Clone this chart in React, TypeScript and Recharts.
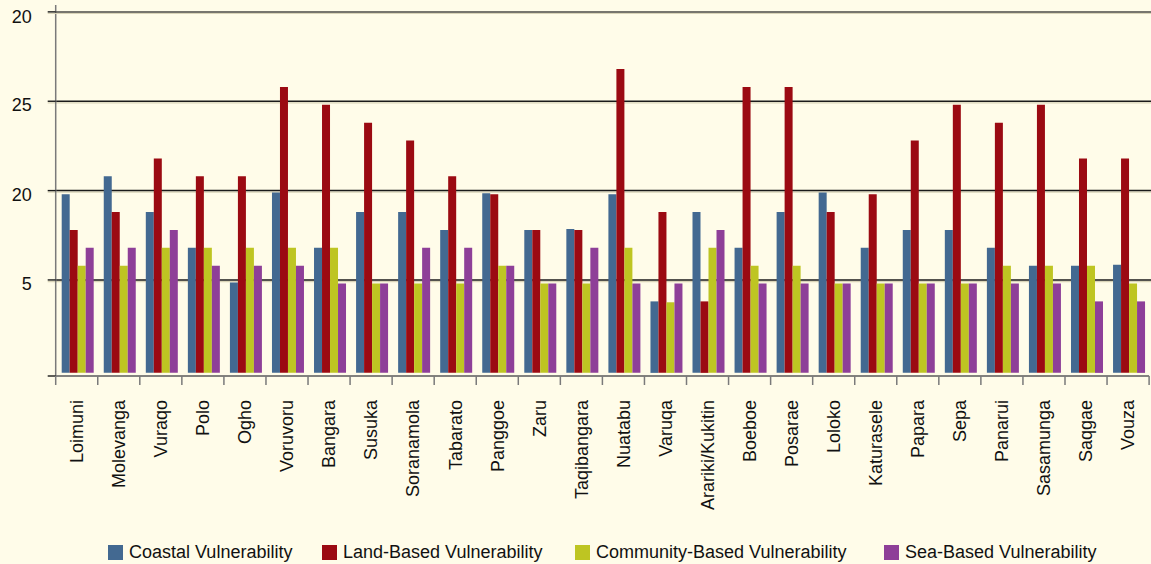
import React from 'react';
import { BarChart, Bar, XAxis, YAxis, ReferenceLine, Legend } from 'recharts';

const CATEGORIES = [
  'Loimuni', 'Molevanga', 'Vuraqo', 'Polo', 'Ogho', 'Voruvoru', 'Bangara', 'Susuka',
  'Soranamola', 'Tabarato', 'Panggoe', 'Zaru', 'Taqibangara', 'Nuatabu', 'Varuqa',
  'Arariki/Kukitin', 'Boeboe', 'Posarae', 'Loloko', 'Katurasele', 'Papara', 'Sepa',
  'Panarui', 'Sasamunga', 'Saqgae', 'Vouza',
];
const COASTAL = [10, 11, 9, 7, 5.05, 10.1, 7, 9, 9, 8, 10.05, 8, 8.05, 10, 4, 9, 7, 9, 10.1, 7, 8, 8, 7, 6, 6, 6.05];
const LAND = [8, 9, 12, 11, 11, 16, 15, 14, 13, 11, 10, 8, 8, 17, 9, 4, 16, 16, 9, 10, 13, 15, 14, 15, 12, 12];
const COMMUNITY = [6, 6, 7, 7, 7, 7, 7, 5, 5, 5, 6, 5, 5, 7, 3.95, 7, 6, 6, 5, 5, 5, 5, 6, 6, 6, 5];
const SEA = [7, 7, 8, 6, 6, 6, 5, 5, 7, 7, 6, 5, 7, 5, 5, 8, 5, 5, 5, 5, 5, 5, 5, 5, 4, 4];

const SERIES_NAMES = [
  'Coastal Vulnerability',
  'Land-Based Vulnerability',
  'Community-Based Vulnerability',
  'Sea-Based Vulnerability',
];
const SERIES_KEYS = ['coastal', 'land', 'community', 'sea'];
const SERIES_VALUES = [COASTAL, LAND, COMMUNITY, SEA];

// axis tick positions and their (printed) labels
const Y_TICKS = [-0.175, 5.2, 10.2, 15.2, 20.2];
const Y_TICK_LABELS = ['', '5', '20', '25', '20'];
const Y_DOMAIN = [-0.175, 20.585];

// styles / layout
const COLORS = ['#436991', '#9b0a12', '#bec522', '#8e3f98'];
const BG = '#fffce9';
const FONT = "'Liberation Sans', Arial, Helvetica, sans-serif";
const W = 1151;
const H = 564;
const AXIS_W = 55.7;
const RIGHT = 1.9;
const PLOT_W = W - AXIS_W - RIGHT;
const HALF_BAND = PLOT_W / CATEGORIES.length / 2;
const Y_TICK_SIZE = 8;
const Y_TICK_MARGIN = 16;
const LEGEND_X = [108, 322, 575, 884];

const data = CATEGORIES.map((name, i) => {
  const row: Record<string, any> = { name };
  SERIES_KEYS.forEach((k, s) => {
    row[k] = SERIES_VALUES[s][i];
  });
  return row;
});

const XTick = (props: any) => {
  const { x, y, payload, index } = props;
  const last = index === CATEGORIES.length - 1;
  return (
    <g>
      <line x1={x - HALF_BAND} x2={x - HALF_BAND} y1={y} y2={y + 9} stroke="#7a7a7a" strokeWidth={1.5} />
      {last && (
        <line x1={x + HALF_BAND} x2={x + HALF_BAND} y1={y} y2={y + 9} stroke="#7a7a7a" strokeWidth={1.5} />
      )}
      <text
        transform={`translate(${x},${y + 24}) rotate(-90)`}
        textAnchor="end"
        dy="0.35em"
        fontSize={18}
        fontFamily={FONT}
        fill="#111"
      >
        {payload.value}
      </text>
    </g>
  );
};

const GridShape = (p: any) => (
  <g>
    <line x1={p.x1 - 8} x2={p.x2 + 3} y1={p.y1 + 1.6} y2={p.y2 + 1.6} stroke="#d9d4b8" strokeWidth={1.2} />
    <line x1={p.x1} x2={p.x2 + 3} y1={p.y1} y2={p.y2} stroke={p.color || '#1a1a1a'} strokeWidth={1.5} />
  </g>
);

const YTick = (props: any) => {
  const { x, y, payload } = props;
  const idx = Y_TICKS.findIndex((t) => Math.abs(t - payload.value) < 1e-6);
  const label = idx >= 0 ? Y_TICK_LABELS[idx] : '';
  const isTop = idx === Y_TICKS.length - 1;
  const axisX = x + Y_TICK_MARGIN + Y_TICK_SIZE;
  return (
    <g>
      {isTop && <GridShape x1={axisX} x2={W - 3} y1={y} y2={y} color="#4a4a44" />}
      <text x={x} y={y} dy={isTop ? 11.5 : 10} textAnchor="end" fontSize={18} fontFamily={FONT} fill="#111">
        {label}
      </text>
    </g>
  );
};

const LegendContent = () => (
  <div style={{ position: 'relative', width: W, height: 24, fontFamily: FONT }}>
    {SERIES_NAMES.map((name, i) => (
      <div key={name} style={{ position: 'absolute', left: LEGEND_X[i], top: 0, height: 24, display: 'flex', alignItems: 'center' }}>
        <div style={{ width: 15, height: 15, background: COLORS[i], marginRight: 6 }} />
        <span style={{ fontSize: 18, color: '#111', lineHeight: '24px', whiteSpace: 'nowrap' }}>{name}</span>
      </div>
    ))}
  </div>
);

export default function App() {
  return (
    <div style={{ position: 'absolute', left: 0, top: 0, width: W, height: H, background: BG }}>
      <BarChart
        width={W}
        height={H}
        data={data}
        margin={{ top: 5, right: RIGHT, bottom: 0, left: 0 }}
        barCategoryGap={6}
        barGap={0}
        baseValue="dataMin"
      >
        {Y_TICKS.slice(1, Y_TICKS.length - 1).map((t) => (
          <ReferenceLine
            key={`rl-${t}`}
            y={t}
            ifOverflow="visible"
            zIndex={-100}
            shape={(p: any) => <GridShape {...p} />}
          />
        ))}
        <XAxis
          dataKey="name"
          interval={0}
          height={164}
          tickSize={0}
          tickMargin={0}
          tickLine={false}
          tick={<XTick />}
          axisLine={{ stroke: '#5a5a5a', strokeWidth: 1.6 }}
        />
        <YAxis
          type="number"
          domain={Y_DOMAIN}
          ticks={Y_TICKS}
          allowDataOverflow
          interval={0}
          width={AXIS_W}
          tickSize={Y_TICK_SIZE}
          tickMargin={Y_TICK_MARGIN}
          tick={<YTick />}
          tickLine={{ stroke: '#1a1a1a', strokeWidth: 1.4 }}
          axisLine={{ stroke: '#7a7a7a', strokeWidth: 1.5 }}
        />
        <Legend verticalAlign="bottom" height={24} content={() => <LegendContent />} />
        {SERIES_KEYS.map((k, i) => (
          <Bar key={k} dataKey={k} name={SERIES_NAMES[i]} fill={COLORS[i]} isAnimationActive={false} />
        ))}
      </BarChart>
    </div>
  );
}
